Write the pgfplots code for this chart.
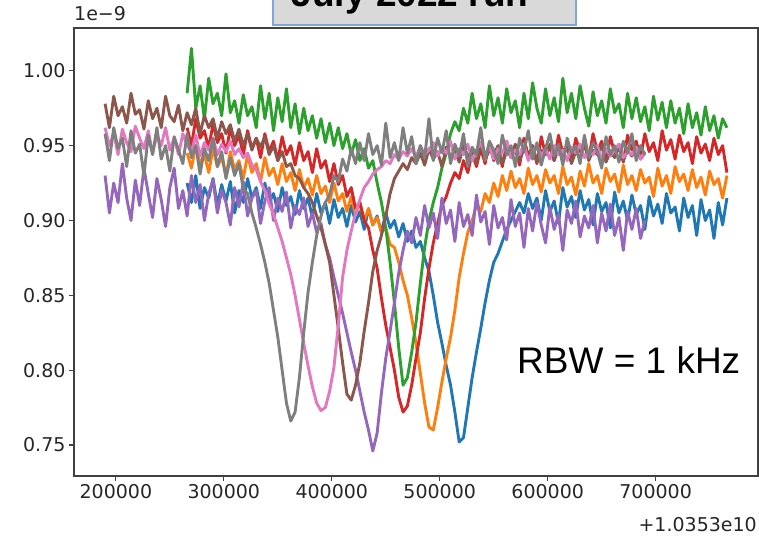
\documentclass[border=0pt]{standalone}
\usepackage{pgfplots}
\pgfplotsset{compat=1.18}
\usepackage{pgfplotstable}
\usepackage{fontspec}
\setmainfont{DejaVu Sans}
\newfontfamily\arial{Liberation Sans}
\definecolor{c0}{HTML}{1F77B4}
\definecolor{c1}{HTML}{FF7F0E}
\definecolor{c2}{HTML}{2CA02C}
\definecolor{c3}{HTML}{D62728}
\definecolor{c4}{HTML}{9467BD}
\definecolor{c5}{HTML}{8C564B}
\definecolor{c6}{HTML}{E377C2}
\definecolor{c7}{HTML}{7F7F7F}
\definecolor{boxgray}{HTML}{D9D9D9}
\definecolor{boxblue}{HTML}{7EA6D8}

% x in kHz above 1.0353e10 Hz, power in 1e-12 (tick labels in 1e-9)
\pgfplotstableread{
x gray pink brown purple
190 958 962 978 930
194 940 950 962 905
198 962 958 983 925
202 948 944 970 912
206 955 961 976 938
210 936 952 965 915
214 960 946 985 900
218 945 963 971 927
222 951 955 974 910
226 930 948 961 935
230 957 960 980 918
234 944 945 968 902
238 962 957 975 928
242 941 950 962 914
246 950 962 983 896
250 933 947 970 922
254 956 955 966 935
258 947 944 977 908
262 938 958 960 920
266 958 950 972 903
270 942 946 964 930
274 950 957 975 912
278 931 943 958 924
282 948 952 970 900
286 940 947 962 918
290 955 955 968 927
294 936 944 955 905
298 946 951 966 920
302 928 946 958 912
306 942 953 964 897
310 930 944 953 922
314 938 948 961 909
318 921 942 950 926
322 918 945 958 903
326 905 937 947 915
330 895 934 955 920
334 884 926 949 898
338 872 920 956 913
342 858 911 944 922
346 840 904 950 900
350 822 895 940 915
354 800 886 946 906
358 778 875 936 919
362 766 864 938 895
366 772 850 930 910
370 795 834 928 904
374 825 818 922 915
378 852 803 918 896
382 872 789 912 905
386 890 778 903 892
390 903 773 895 898
394 912 775 884 884
398 917 786 872 875
402 930 802 850 862
406 926 830 828 850
410 941 862 805 838
414 933 880 784 825
418 948 893 780 812
422 938 905 790 800
426 952 914 805 786
430 940 922 826 772
434 958 926 845 760
438 944 931 866 746
442 950 934 880 758
446 937 936 890 785
450 965 940 903 808
454 942 938 918 826
458 952 944 928 845
462 940 941 933 865
466 962 946 938 880
470 945 943 934 893
474 956 948 942 885
478 938 942 938 902
482 950 950 945 890
486 942 944 937 910
490 968 947 948 895
494 940 952 941 905
498 955 943 946 888
502 945 949 936 915
506 960 945 949 898
510 938 953 942 907
514 951 941 947 886
518 943 948 939 912
522 958 944 950 896
526 936 951 943 904
530 949 940 946 890
534 944 947 938 917
538 962 952 952 899
542 940 944 941 906
546 953 949 947 884
550 947 941 944 910
554 938 948 950 895
558 957 945 938 902
562 944 953 946 887
566 950 942 943 914
570 936 947 951 896
574 955 944 940 905
578 946 951 948 882
582 960 940 942 908
586 941 946 950 893
590 952 950 939 912
594 937 943 947 897
598 948 948 944 885
602 958 941 951 909
606 943 950 940 894
610 951 944 948 904
614 937 947 943 880
618 955 940 949 907
622 945 949 938 898
626 950 945 946 913
630 938 951 942 889
634 957 942 951 903
638 942 946 940 895
642 952 944 947 910
646 946 950 944 885
650 935 941 950 905
654 956 948 939 893
658 944 943 946 911
662 950 947 942 890
666 939 951 949 902
670 953 942 940 880
674 945 946 947 906
678 958 944 943 894
682 940 949 950 908
686 950 941 941 888
690 944 946 945 900
}\groupA

\pgfplotstableread{
x blue orange green red
266 925 945 985 962
270 912 935 1015 950
274 930 950 975 968
278 908 938 990 955
282 922 944 968 960
286 915 932 995 948
290 928 948 978 965
294 910 936 985 952
298 924 942 970 958
302 913 930 998 945
306 926 946 972 962
310 905 934 980 950
314 920 940 965 957
318 912 928 984 944
322 928 944 970 960
326 915 932 976 948
330 922 938 962 955
334 908 926 990 942
338 925 942 968 958
342 912 930 985 946
346 918 935 960 953
350 906 924 982 940
354 922 938 966 956
358 910 926 988 944
362 916 932 962 950
366 904 920 978 937
370 920 934 958 952
374 908 922 975 940
378 915 928 960 946
382 902 917 970 932
386 918 930 955 948
390 905 918 968 935
394 912 923 952 940
398 898 912 965 926
402 914 925 950 938
406 902 913 962 924
410 908 918 948 930
414 896 906 958 916
418 910 916 944 922
422 899 904 954 908
426 906 912 940 912
430 894 900 948 900
434 908 908 935 895
438 897 897 940 880
442 903 902 925 868
446 892 892 912 848
450 905 895 895 830
454 895 884 872 815
458 900 882 845 800
462 889 872 815 782
466 898 860 790 772
470 886 850 795 776
474 893 835 812 790
478 882 818 832 808
482 886 798 858 825
486 875 778 882 848
490 866 762 900 868
494 850 760 912 885
498 832 775 922 898
502 818 792 935 910
506 803 808 945 916
510 790 822 958 925
514 772 840 966 932
518 752 862 960 928
522 755 878 975 940
526 775 892 965 932
530 795 900 985 945
534 812 910 968 936
538 828 906 978 948
542 845 918 962 938
546 860 912 990 952
550 872 925 970 940
554 878 916 982 947
558 886 930 965 936
562 894 920 988 953
566 900 933 972 942
570 906 922 980 948
574 912 928 962 937
578 905 918 985 955
582 918 935 968 943
586 908 924 992 950
590 915 930 975 938
594 900 919 965 956
598 920 934 988 944
602 906 925 970 949
606 913 930 982 940
610 898 918 966 957
614 922 936 995 945
618 909 924 972 951
622 916 929 985 939
626 902 917 968 955
630 920 933 990 946
634 907 923 975 952
638 914 938 963 941
642 897 925 986 958
646 918 930 970 946
650 906 918 980 953
654 912 935 965 940
658 895 926 988 956
662 919 931 972 945
666 905 919 978 951
670 913 937 962 939
674 900 924 985 957
678 917 930 968 947
682 904 920 982 953
686 910 934 966 942
690 894 925 976 958
694 916 929 960 946
698 903 916 983 952
702 911 935 967 940
706 898 923 979 960
710 918 930 962 947
714 905 918 980 954
718 909 936 965 941
722 893 926 975 957
726 915 931 958 946
730 902 920 978 952
734 910 934 962 938
738 890 922 972 956
742 914 929 957 945
746 900 917 976 951
750 907 933 960 940
754 888 924 970 955
758 912 928 955 944
762 897 915 968 950
766 915 930 962 932
}\groupB

\begin{document}
\begin{tikzpicture}
\begin{axis}[
  at={(74pt,63pt)}, anchor=south west, scale only axis,
  width=684pt, height=448pt,
  xmin=161.2, xmax=794.8, ymin=729.3, ymax=1028.6,
  xtick={200,300,400,500,600,700},
  xticklabels={200000,300000,400000,500000,600000,700000},
  ytick={750,800,850,900,950,1000},
  yticklabels={0.75,0.80,0.85,0.90,0.95,1.00},
  xtick pos=bottom, ytick pos=left, tick align=outside,
  major tick length=5pt,
  axis line style={black!75, line width=1.3pt},
  every tick/.style={black!75, line width=1.1pt},
  tick label style={font=\fontsize{19}{22}\selectfont, text=black!85},
  /pgf/number format/assume math mode=true,
  every axis plot/.append style={line width=2.9pt, line join=round, mark=none},
]
\addplot[c0] table[x=x,y=blue]{\groupB};
\addplot[c1] table[x=x,y=orange]{\groupB};
\addplot[c2] table[x=x,y=green]{\groupB};
\addplot[c3] table[x=x,y=red]{\groupB};
\addplot[c4] table[x=x,y=purple]{\groupA};
\addplot[c5] table[x=x,y=brown]{\groupA};
\addplot[c6] table[x=x,y=pink]{\groupA};
\addplot[c7] table[x=x,y=gray]{\groupA};
\end{axis}
\node[anchor=west, inner sep=0, text=black!85, font=\fontsize{19}{22}\selectfont] at (74pt,525pt) {1e−9};
\node[anchor=east, inner sep=0, text=black!85, font=\fontsize{19}{22}\selectfont] at (757pt,14pt) {+1.0353e10};
\node[anchor=west, inner sep=0, font=\arial\fontsize{37}{40}\selectfont] at (517pt,179pt) {RBW = 1 kHz};
\draw[draw=boxblue, fill=boxgray, line width=1.5pt] (273pt,514pt) rectangle (576pt,580pt);
\node[anchor=base, inner sep=0, font=\arial\bfseries\fontsize{37}{40}\selectfont] at (410pt,532pt) {July 2022 run};
\pgfresetboundingbox
\useasboundingbox (0pt,0pt) rectangle (759pt,539pt);
\end{tikzpicture}
\end{document}
